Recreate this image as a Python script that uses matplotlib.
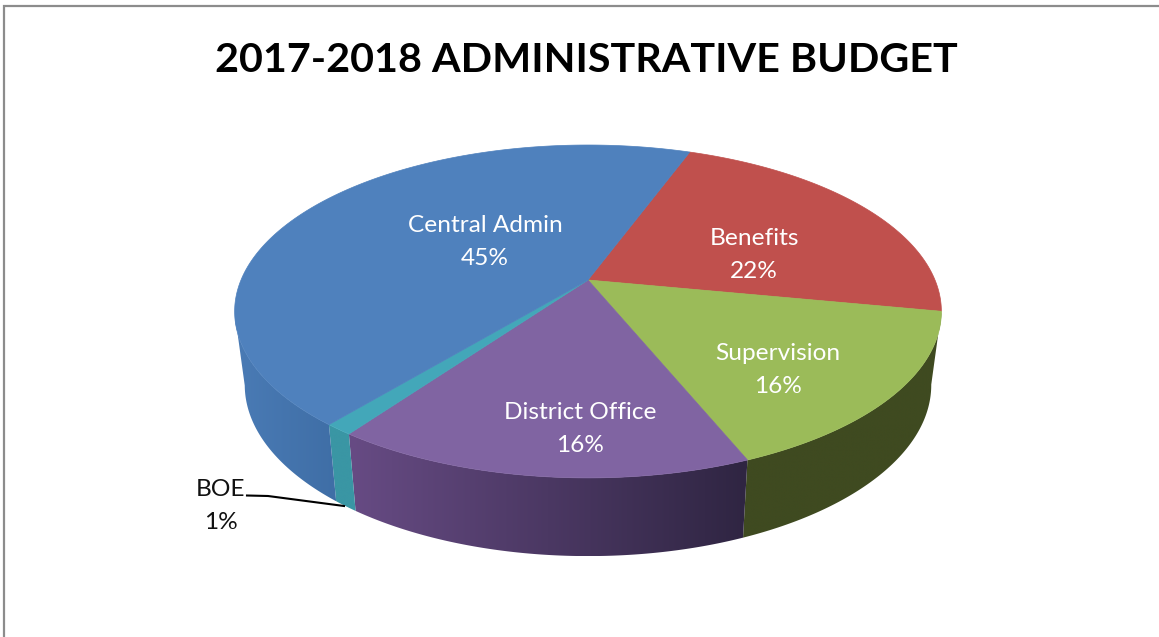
import numpy as np
import matplotlib.pyplot as plt
from matplotlib.patches import Polygon
from matplotlib.colors import to_rgb

plt.rcParams['font.family'] = ['Lato', 'DejaVu Sans']

# Chart data (percent, labels show them rounded)
categories = ["Benefits", "Supervision", "District Office", "BOE", "Central Admin"]
shares = [22.4, 15.8, 16.1, 1.1, 44.6]

# Colours, same order as categories
top_colors = ["#c0504d", "#9bbb59", "#8064a2", "#43a7b9", "#4f81bd"]
side_left = ["#7a302e", "#3f4a20", "#674b84", "#3a96a4", "#4a7bb5"]
side_right = ["#7a302e", "#3f4a20", "#2f2542", "#3a96a4", "#3f6ea6"]

# Where the labels go (pixels)
label_pos = [(754, 255), (778, 370), (580, 429), None, (485, 242)]

W, H = 1159, 637
START = 69.8  # angle of the first slice edge, going clockwise


def top_rim(t):
    # perspective view of the pie's top face, t in degrees
    t = np.radians(t)
    u, v = np.cos(t), np.sin(t)
    w = 1 + 0.189 * v
    return 588 + 347 * u / w, 280 - 160.5 * v / w


def bottom_rim(t):
    t = np.radians(t)
    u, v = np.cos(t), np.sin(t)
    w = 1 + 0.19 * v
    return 588 + 337 * u / w, 352.4 - 165 * v / w


fig = plt.figure(figsize=(W / 100, H / 100), dpi=100)
ax = fig.add_axes([0, 0, 1, 1])
ax.axis("off")

# frame, cropped on the right and at the bottom
ax.plot([3.5, 3.5, W], [H, 5.5, 5.5], color="#8c8c8c", lw=1.6, solid_joinstyle="miter")

edges = START - np.cumsum([0] + shares) * 3.6

# side wall first, then the top over it
for i in range(len(shares)):
    ts = np.linspace(edges[i], edges[i + 1], 300)
    # only the front of the pie shows
    ts = ts[np.sin(np.radians(ts)) <= -0.185]
    if len(ts) < 2:
        continue
    x1, y1 = top_rim(ts)
    x2, y2 = bottom_rim(ts)
    xs = np.concatenate([x1, x2[::-1]])
    ys = np.concatenate([y1, y2[::-1]])
    wall = Polygon(np.column_stack([xs, ys]), closed=True, transform=ax.transData)
    # colour runs left to right across the wall
    c_l, c_r = np.array(to_rgb(side_left[i])), np.array(to_rgb(side_right[i]))
    grad = np.linspace(0, 1, 256)[None, :, None]
    img = c_l + (c_r - c_l) * grad
    im = ax.imshow(img, extent=[xs.min(), xs.max(), ys.max(), ys.min()], aspect="auto",
                   interpolation="bilinear", zorder=1)
    im.set_clip_path(wall)

for i in range(len(shares)):
    ts = np.linspace(edges[i], edges[i + 1], 200)
    xs, ys = top_rim(ts)
    pts = [(588, 280)] + list(zip(xs, ys))
    ax.add_patch(Polygon(pts, closed=True, fc=top_colors[i], ec=top_colors[i], lw=0.5, zorder=2))

ax.set_xlim(0, W)
ax.set_ylim(H, 0)

ax.text(586, 60, "2017-2018 ADMINISTRATIVE BUDGET", ha="center", va="center",
        fontsize=29.7, fontweight="bold", color="black")

for name, val, pos in zip(categories, shares, label_pos):
    if pos is None:
        continue
    ax.text(pos[0], pos[1], f"{name}\n{val:.0f}%", ha="center", va="center", color="white",
            fontsize=17.6, linespacing=1.67)

# small slice gets its label outside with a leader line
ax.text(221, 506, f"{categories[3]}\n{shares[3]:.0f}%", ha="center", va="center", color="#111111",
        fontsize=17.6, linespacing=1.67)
ax.plot([247, 268, 344], [495.5, 496, 506], color="black", lw=1.5)

fig.savefig("out.png", dpi=100)
